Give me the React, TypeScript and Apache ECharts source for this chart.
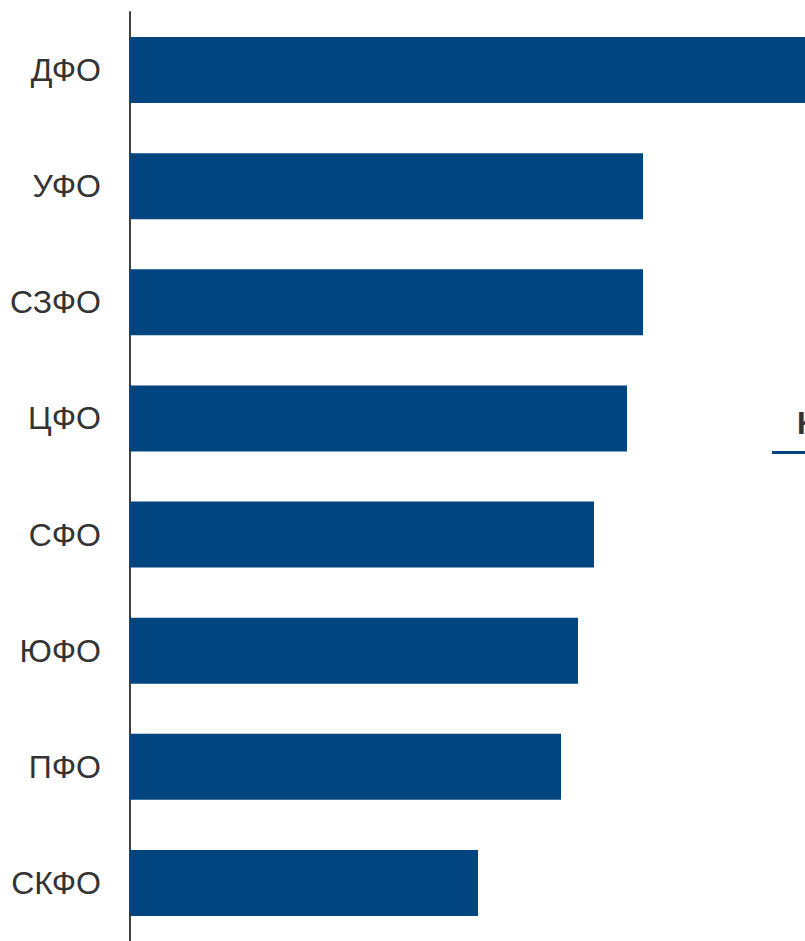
import React, { useEffect, useRef } from "react";
import * as echarts from "echarts";

const categories = ["ДФО", "УФО", "СЗФО", "ЦФО", "СФО", "ЮФО", "ПФО", "СКФО"];
const values = [72, 51.3, 51.3, 49.7, 46.4, 44.8, 43.1, 34.8];
const legendTitle = "К";

export default function App() {
  const ref = useRef<HTMLDivElement>(null);
  useEffect(() => {
    const chart = echarts.init(ref.current!, null, { renderer: "svg" });
    chart.setOption({
      animation: false,
      backgroundColor: "#ffffff",
      grid: { left: 130, top: 12, height: 932, right: 0, containLabel: false },
      xAxis: {
        type: "value",
        min: 0,
        max: 67.5,
        show: false,
      },
      yAxis: {
        type: "category",
        data: categories,
        inverse: true,
        axisLine: { show: true, lineStyle: { color: "#404040", width: 2 } },
        axisTick: { show: false },
        axisLabel: {
          fontFamily: "Liberation Sans, Arial, sans-serif",
          fontSize: 32,
          color: "#333333",
          margin: 29,
        },
      },
      series: [
        {
          type: "bar",
          data: values,
          barWidth: 66,
          clip: true,
          itemStyle: { color: "#00457F" },
        },
      ],
      graphic: [
        {
          type: "text",
          left: 797,
          top: 408,
          style: {
            text: legendTitle,
            fontFamily: "Liberation Sans, Arial, sans-serif",
            fontSize: 31,
            fontWeight: "bold",
            fill: "#333333",
          },
        },
        {
          type: "rect",
          shape: { x: 772, y: 451, width: 40, height: 3 },
          style: { fill: "#00457F" },
        },
      ],
    });
    return () => chart.dispose();
  }, []);
  return (
    <div
      ref={ref}
      style={{ position: "fixed", left: 0, top: 0, width: 805, height: 941 }}
    />
  );
}
